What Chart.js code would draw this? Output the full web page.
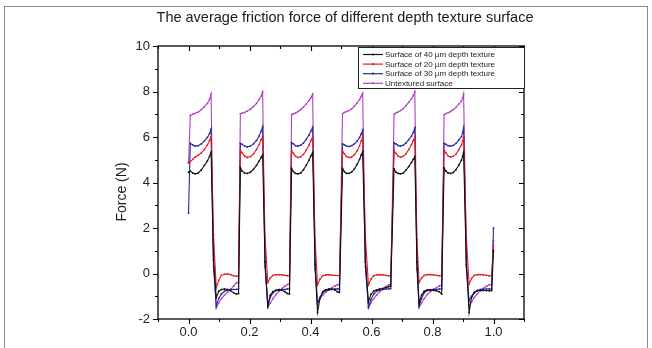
<!DOCTYPE html>
<html>
<head>
<meta charset="utf-8">
<script src="https://cdn.jsdelivr.net/npm/chart.js@4.4.1/dist/chart.umd.min.js"></script>
<style>
  html, body { margin: 0; padding: 0; background: #fff; }
  #wrap { width: 652px; height: 348px; position: relative; }
</style>
</head>
<body>
<div id="wrap"><canvas id="c" width="652" height="348"></canvas></div>
<script>
const chartTitle = 'The average friction force of different depth texture surface';
const yTitle = 'Force (N)';
const seriesLabels = [
  'Surface of 40 \u00b5m depth texture',
  'Surface of 20 \u00b5m depth texture',
  'Surface of 30 \u00b5m depth texture',
  'Untextured surface'
];
const seriesColors = ['#111111', '#e21c22', '#2a2a9e', '#b23fc2'];

const xs = [
  0.000, 0.006, 0.014, 0.022, 0.032, 0.042, 0.052, 0.062, 0.069, 0.074, 0.082, 0.091, 0.099, 0.108, 0.118, 0.128, 0.138, 0.148, 0.157, 0.164,
  0.170, 0.176, 0.184, 0.193, 0.203, 0.213, 0.223, 0.232, 0.238, 0.243, 0.251, 0.260, 0.268, 0.277, 0.287, 0.297, 0.307, 0.316, 0.324, 0.331,
  0.338, 0.344, 0.351, 0.359, 0.368, 0.377, 0.386, 0.395, 0.401, 0.407, 0.415, 0.423, 0.431, 0.440, 0.450, 0.460, 0.470, 0.480, 0.488, 0.495,
  0.505, 0.511, 0.518, 0.526, 0.535, 0.544, 0.553, 0.561, 0.566, 0.571, 0.580, 0.590, 0.598, 0.607, 0.617, 0.627, 0.637, 0.647, 0.656, 0.663,
  0.674, 0.680, 0.687, 0.695, 0.704, 0.713, 0.722, 0.731, 0.737, 0.742, 0.749, 0.756, 0.764, 0.773, 0.783, 0.793, 0.803, 0.813, 0.822, 0.830,
  0.838, 0.844, 0.851, 0.859, 0.868, 0.877, 0.886, 0.895, 0.899, 0.902, 0.911, 0.920, 0.928, 0.937, 0.947, 0.957, 0.967, 0.977, 0.986, 0.994,
  1.000
];

const depth40 = [
  4.45, 4.50, 4.42, 4.38, 4.42, 4.55, 4.75, 4.95, 5.15, 5.33, 0.6, -1.05, -0.78, -0.70, -0.68, -0.70, -0.75, -0.85, -0.90, -0.88,
  4.65, 4.50, 4.42, 4.40, 4.45, 4.58, 4.75, 4.95, 5.10, 5.21, 0.5, -1.42, -0.95, -0.80, -0.73, -0.72, -0.74, -0.80, -0.88, -0.90,
  4.62, 4.48, 4.40, 4.38, 4.42, 4.56, 4.76, 4.98, 5.16, 5.31, 0.4, -1.71, -1.10, -0.80, -0.72, -0.68, -0.68, -0.72, -0.80, -0.83,
  4.62, 4.48, 4.40, 4.40, 4.46, 4.60, 4.80, 5.02, 5.20, 5.36, 0.5, -1.25, -0.92, -0.78, -0.72, -0.68, -0.66, -0.62, -0.58, -0.55,
  4.60, 4.46, 4.40, 4.38, 4.42, 4.54, 4.70, 4.88, 5.02, 5.13, 0.5, -1.32, -0.95, -0.78, -0.72, -0.72, -0.74, -0.76, -0.80, -0.90,
  4.64, 4.50, 4.42, 4.40, 4.44, 4.56, 4.76, 4.98, 5.16, 5.31, 0.4, -1.71, -1.05, -0.85, -0.76, -0.74, -0.75, -0.75, -0.76, -0.75,
  1.00
];

const depth20 = [
  4.88, 4.92, 5.02, 5.12, 5.20, 5.30, 5.45, 5.65, 5.85, 6.00, 1.7, -0.62, -0.30, -0.08, -0.03, -0.02, -0.05, -0.10, -0.12, -0.10,
  5.42, 5.30, 5.16, 5.10, 5.14, 5.25, 5.45, 5.68, 5.88, 6.01, 1.6, -0.40, -0.20, -0.08, -0.05, -0.05, -0.06, -0.08, -0.10, -0.10,
  5.40, 5.28, 5.15, 5.10, 5.13, 5.24, 5.42, 5.64, 5.84, 5.99, 1.5, -0.50, -0.25, -0.10, -0.06, -0.05, -0.07, -0.08, -0.09, -0.09,
  5.38, 5.26, 5.14, 5.10, 5.12, 5.22, 5.40, 5.62, 5.82, 5.98, 1.6, -0.50, -0.25, -0.10, -0.06, -0.05, -0.06, -0.08, -0.10, -0.10,
  5.40, 5.28, 5.16, 5.11, 5.15, 5.26, 5.45, 5.66, 5.85, 6.00, 1.5, -0.40, -0.20, -0.08, -0.05, -0.05, -0.06, -0.08, -0.10, -0.10,
  5.42, 5.30, 5.17, 5.12, 5.15, 5.25, 5.44, 5.65, 5.84, 5.98, 1.6, -0.47, -0.22, -0.08, -0.05, -0.05, -0.06, -0.08, -0.10, -0.10,
  1.20
];

const depth30 = [
  2.65, 5.72, 5.65, 5.60, 5.62, 5.70, 5.82, 5.98, 6.15, 6.35, 0.3, -1.42, -1.10, -0.90, -0.78, -0.72, -0.70, -0.70, -0.70, -0.68,
  5.72, 5.68, 5.60, 5.56, 5.60, 5.70, 5.85, 6.05, 6.25, 6.45, 0.3, -1.42, -1.05, -0.85, -0.75, -0.70, -0.70, -0.70, -0.68, -0.68,
  5.75, 5.70, 5.62, 5.60, 5.64, 5.74, 5.90, 6.08, 6.25, 6.42, 0.2, -1.34, -1.05, -0.85, -0.75, -0.72, -0.70, -0.68, -0.68, -0.68,
  5.70, 5.66, 5.60, 5.58, 5.62, 5.70, 5.82, 5.98, 6.12, 6.30, 0.3, -1.49, -1.15, -0.90, -0.78, -0.72, -0.70, -0.68, -0.68, -0.66,
  5.74, 5.70, 5.63, 5.60, 5.64, 5.74, 5.88, 6.04, 6.20, 6.40, 0.2, -1.42, -1.10, -0.85, -0.75, -0.72, -0.70, -0.70, -0.68, -0.68,
  5.72, 5.68, 5.62, 5.60, 5.63, 5.72, 5.86, 6.02, 6.20, 6.40, 0.3, -1.20, -1.00, -0.82, -0.74, -0.70, -0.68, -0.68, -0.68, -0.68,
  2.00
];

const untextured = [
  4.85, 6.95, 7.00, 7.04, 7.10, 7.20, 7.33, 7.48, 7.65, 7.88, 0.6, -1.52, -1.30, -1.10, -0.95, -0.82, -0.70, -0.55, -0.42, -0.38,
  7.02, 7.05, 7.08, 7.14, 7.22, 7.34, 7.48, 7.65, 7.80, 7.98, 0.5, -1.50, -1.30, -1.10, -0.92, -0.78, -0.66, -0.56, -0.48, -0.45,
  6.98, 7.02, 7.06, 7.12, 7.20, 7.32, 7.45, 7.60, 7.72, 7.88, 0.5, -1.25, -1.10, -0.95, -0.82, -0.72, -0.62, -0.55, -0.50, -0.47,
  7.03, 7.08, 7.12, 7.16, 7.24, 7.36, 7.50, 7.65, 7.78, 7.92, 0.6, -1.50, -1.30, -1.10, -0.95, -0.80, -0.68, -0.58, -0.50, -0.46,
  7.00, 7.05, 7.10, 7.16, 7.25, 7.38, 7.52, 7.68, 7.82, 7.99, 0.5, -1.50, -1.30, -1.10, -0.92, -0.80, -0.70, -0.62, -0.55, -0.52,
  6.98, 7.03, 7.07, 7.12, 7.20, 7.30, 7.44, 7.58, 7.72, 7.89, 0.6, -1.42, -1.25, -1.05, -0.90, -0.76, -0.65, -0.56, -0.50, -0.47,
  1.45
];

const allSeries = [depth40, depth20, depth30, untextured];
const xMin = -0.1, xMax = 1.1, xStep = 0.1;
const yMin = -2, yMax = 10, yStep = 1;

const FONT = '"Liberation Sans", Arial, Helvetica, sans-serif';

const datasets = allSeries.map((ys, k) => ({
  label: seriesLabels[k],
  data: xs.map((x, i) => ({ x: x, y: ys[i] })),
  borderColor: seriesColors[k],
  backgroundColor: seriesColors[k],
  borderWidth: 1.1,
  pointRadius: 0.9,
  pointBorderWidth: 0,
  pointHoverRadius: 0,
  tension: 0,
  fill: false
}));

const isMajorX = v => Math.abs(Math.round(v * 10)) % 2 === 0;
const isMajorY = v => Math.abs(Math.round(v)) % 2 === 0;

const decorPlugin = {
  id: 'decor',
  afterDraw(chart) {
    const { ctx, chartArea: a, scales } = chart;
    const x = scales.x, y = scales.y;
    ctx.save();
    // outer frame
    ctx.strokeStyle = '#8c8c8c';
    ctx.lineWidth = 1;
    ctx.strokeRect(4.5, 6.5, 643, 380);

    // chart title
    ctx.fillStyle = '#1a1a1a';
    ctx.font = '14.5px ' + FONT;
    ctx.textAlign = 'center';
    ctx.textBaseline = 'middle';
    ctx.fillText(chartTitle, 345, 18);

    // axis box
    ctx.strokeStyle = '#000';
    ctx.lineWidth = 1.3;
    ctx.strokeRect(a.left, a.top, a.right - a.left, a.bottom - a.top);

    // tick marks
    ctx.lineWidth = 1.1;
    ctx.beginPath();
    x.ticks.forEach(t => {
      const px = Math.round(x.getPixelForValue(t.value)) + 0.5;
      const L = isMajorX(t.value) ? 5 : 3;
      ctx.moveTo(px, a.bottom); ctx.lineTo(px, a.bottom + L);
      ctx.moveTo(px, a.top); ctx.lineTo(px, a.top + L);
    });
    y.ticks.forEach(t => {
      const py = Math.round(y.getPixelForValue(t.value)) + 0.5;
      const L = isMajorY(t.value) ? 5 : 3;
      ctx.moveTo(a.left - L, py); ctx.lineTo(a.left, py);
      ctx.moveTo(a.right - L, py); ctx.lineTo(a.right, py);
    });
    ctx.stroke();

    // y axis title
    ctx.save();
    ctx.translate(122, 192);
    ctx.rotate(-Math.PI / 2);
    ctx.fillStyle = '#1a1a1a';
    ctx.font = '14px ' + FONT;
    ctx.textAlign = 'center';
    ctx.textBaseline = 'middle';
    ctx.fillText(yTitle, 0, 0);
    ctx.restore();

    // legend
    const lx = 358.5, ly = 47.5, lw = 166, lh = 41;
    ctx.fillStyle = '#fff';
    ctx.fillRect(lx, ly, lw, lh);
    ctx.strokeStyle = '#222';
    ctx.lineWidth = 1;
    ctx.strokeRect(lx, ly, lw, lh);
    ctx.font = '8px ' + FONT;
    ctx.textAlign = 'left';
    ctx.textBaseline = 'middle';
    chart.data.datasets.forEach((ds, i) => {
      const ry = 54.5 + i * 9.6;
      ctx.strokeStyle = ds.borderColor;
      ctx.lineWidth = 1.2;
      ctx.beginPath();
      ctx.moveTo(363, ry); ctx.lineTo(383, ry);
      ctx.stroke();
      ctx.fillStyle = ds.borderColor;
      ctx.beginPath();
      ctx.arc(373, ry, 1.1, 0, Math.PI * 2);
      ctx.fill();
      ctx.fillStyle = '#222';
      ctx.fillText(ds.label, 385, ry + 0.5);
    });
    ctx.restore();
  }
};

new Chart(document.getElementById('c'), {
  type: 'line',
  data: { datasets: datasets },
  options: {
    responsive: false,
    animation: false,
    events: [],
    layout: { padding: { left: 110, right: 128, top: 46, bottom: 0 } },
    plugins: {
      legend: { display: false },
      tooltip: { enabled: false },
      title: { display: false }
    },
    scales: {
      x: {
        type: 'linear',
        min: xMin, max: xMax,
        grid: { display: false, drawTicks: false },
        border: { display: false },
        ticks: {
          stepSize: xStep,
          autoSkip: false,
          maxRotation: 0,
          padding: 6,
          color: '#222',
          font: { family: FONT, size: 13 },
          callback: v => (isMajorX(v) && v > -0.05 && v < 1.05) ? (Math.round(v * 10) / 10).toFixed(1) : ''
        },
        afterFit: s => { s.height = 29; }
      },
      y: {
        type: 'linear',
        min: yMin, max: yMax,
        grid: { display: false, drawTicks: false },
        border: { display: false },
        ticks: {
          stepSize: yStep,
          autoSkip: false,
          padding: 8,
          color: '#222',
          font: { family: FONT, size: 13 },
          callback: v => isMajorY(v) ? String(Math.round(v)) : ''
        },
        afterFit: s => { s.width = 48; }
      }
    }
  },
  plugins: [decorPlugin]
});
</script>
</body>
</html>
